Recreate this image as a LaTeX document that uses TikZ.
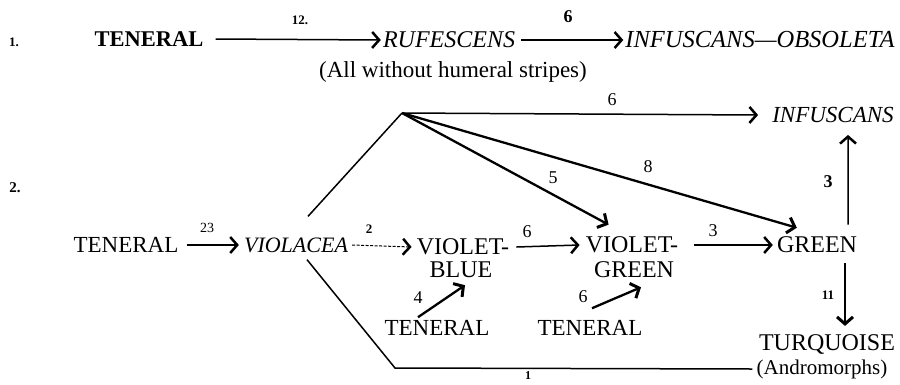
\documentclass[tikz,border=0pt]{standalone}
\usepackage{fontspec}
\setmainfont{Liberation Serif}
\usetikzlibrary{arrows.meta}
\begin{document}
\begin{tikzpicture}[x=1pt,y=-1pt,
  lbl/.style={inner sep=0pt,font=\fontsize{23}{25}\selectfont},
  bld/.style={inner sep=0pt,font=\fontsize{22.5}{25}\selectfont\bfseries},
  ital/.style={inner sep=0pt,font=\fontsize{23}{25}\selectfont\itshape},
  num/.style={inner sep=0pt,font=\fontsize{18}{20}\selectfont},
  sml/.style={inner sep=0pt,font=\fontsize{13}{15}\selectfont\bfseries},
  conn/.style={line width=1.5pt,-{Straight Barb[length=7pt,width=16pt,line width=2.5pt]}},
  thickconn/.style={line width=2.3pt,-{Straight Barb[length=7pt,width=16pt,line width=3pt]}},
  dashconn/.style={line width=1pt,dash pattern=on 3pt off 1.5pt,-{Straight Barb[length=7pt,width=16pt,line width=2.5pt]}},
  plain/.style={line width=1.5pt},
]
\useasboundingbox (0,0) rectangle (900,384);

% ---------- row 1 ----------
\node[sml] (n1) at (14,42) {1.};
\node[bld] (t1) at (149,39) {TENERAL};
\node[ital,font=\fontsize{24}{26}\selectfont\itshape] (r1) at (449,40) {RUFESCENS};
\node[ital,font=\fontsize{24.5}{26}\selectfont\itshape] (io) at (760,40) {INFUSCANS—OBSOLETA};
\node[lbl] (note) at (453,72) {(All without humeral stripes)};
\draw[conn] ([xshift=12pt]t1.east) -- ([xshift=-2pt]r1.west);
\draw[conn] ([xshift=6pt]r1.east) -- ([xshift=-2pt]io.west);
\node[sml] (l12) at (300,20) {12.};
\node[num,font=\fontsize{18}{20}\selectfont\bfseries] (l6a) at (568,17) {6};

% ---------- row 2 ----------
\node[sml,font=\fontsize{15}{17}\selectfont\bfseries] (n2) at (15,188) {2.};
\coordinate (apex) at (402,113);
\node[ital] (inf) at (833,115) {INFUSCANS};
\node[lbl] (t2) at (126,245) {TENERAL};
\node[ital,font=\fontsize{22}{25}\selectfont\itshape] (vio) at (296,245) {VIOLACEA};
\node[lbl,font=\fontsize{24}{26}\selectfont] (vb) at (463,247) {VIOLET-};
\node[lbl,font=\fontsize{24}{26}\selectfont] (vb2) at (461,270) {BLUE};
\node[lbl,font=\fontsize{24}{26}\selectfont] (vg) at (632,245) {VIOLET-};
\node[lbl,font=\fontsize{24}{26}\selectfont] (vg2) at (634,270) {GREEN};
\node[lbl,font=\fontsize{24}{26}\selectfont] (gr) at (817,245) {GREEN};
\node[lbl,font=\fontsize{24}{26}\selectfont] (tq) at (827,344) {TURQUOISE};
\node[lbl,font=\fontsize{21}{23}\selectfont] (tq2) at (822,369) {(Andromorphs)};
\node[lbl] (t3) at (437,328) {TENERAL};
\node[lbl] (t4) at (590,328) {TENERAL};

\draw[conn] ([xshift=8pt]t2.east) -- ([xshift=-5pt]vio.west);
\draw[dashconn] ([xshift=4pt]vio.east) -- ([xshift=-5pt]vb.west);
\draw[conn] ([xshift=7pt]vb.east) -- ([xshift=-6pt]vg.west);
\draw[conn] ([xshift=16pt]vg.east) -- ([xshift=-4pt]gr.west);
\draw[conn] ([xshift=-9pt,yshift=12pt]gr.north east) -- ([xshift=15pt,yshift=-12pt]inf.south);
\draw[thickconn] ([xshift=28pt,yshift=-10pt]gr.south) -- ([xshift=18pt,yshift=8pt]tq.north);

\draw[conn] (apex) -- ([xshift=-14pt]inf.west);
\draw[thickconn] (apex) -- ([xshift=23pt,yshift=12pt]vg.north west);
\draw[thickconn] (apex) -- ([xshift=20pt,yshift=9pt]gr.north west);
\draw[plain] ([xshift=12pt,yshift=21pt]vio.north) -- (apex);
\coordinate (bend) at (395,368);
\draw[plain] ([xshift=11pt,yshift=-7pt]vio.south) -- (bend) -- ([xshift=-4pt]tq2.west);

\draw[thickconn] ([xshift=-19pt,yshift=3pt]t3.north) -- ([xshift=4pt,yshift=-7pt]vb2.south);
\draw[thickconn] ([xshift=2pt,yshift=12pt]t4.north) -- ([xshift=7pt,yshift=-9pt]vg2.south);

\node[sml,font=\fontsize{14}{16}\selectfont] (l23) at (207,228) {23};
\node[sml] (l2) at (369,229) {2};
\node[num] (l6b) at (612,100) {6};
\node[num] (l5) at (553,178) {5};
\node[num] (l8) at (648,167) {8};
\node[num,font=\fontsize{18}{20}\selectfont\bfseries] (l3a) at (828,182) {3};
\node[num] (l6c) at (527,232) {6};
\node[num] (l3b) at (713,231) {3};
\node[sml] (l11) at (828,295) {11};
\node[num] (l4) at (418,298) {4};
\node[num] (l6d) at (583,297) {6};
\node[sml,font=\fontsize{12}{14}\selectfont\bfseries] (l1) at (528,376) {1};
\end{tikzpicture}
\end{document}
